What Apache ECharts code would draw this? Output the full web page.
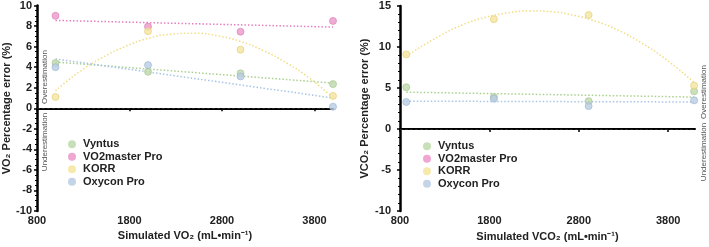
<!DOCTYPE html>
<html>
<head>
<meta charset="utf-8">
<script src="https://cdn.jsdelivr.net/npm/echarts@6/dist/echarts.min.js"></script>
<style>
  html, body { margin: 0; padding: 0; background: #fff; }
  #chart { width: 709px; height: 247px; }
</style>
</head>
<body>
<div id="chart"></div>
<script>
// VO2 panel (left)
const vo2X = [1000, 2000, 3000, 4000];
const vo2Vyntus = [4.4, 3.55, 3.4, 2.35];
const vo2Master = [9.0, 7.95, 7.45, 8.5];
const vo2Korr = [1.1, 7.5, 5.7, 1.2];
const vo2Oxycon = [4.0, 4.2, 3.1, 0.15];
// fitted lines
const vo2LineX = [1000, 4000];
const vo2VyntusLine = [4.5, 2.45];
const vo2MasterLine = [8.55, 7.9];
const vo2OxyconLine = [4.8, 1.0];
const vo2KorrCurveX = [1000, 1250, 1500, 1750, 2000, 2250, 2500, 2750, 3000, 3250, 3500, 3750, 4000];
const vo2KorrCurve = [1.7, 3.5, 4.9, 6.0, 6.8, 7.2, 7.3, 7.05, 6.5, 5.6, 4.4, 2.9, 1.0];

// VCO2 panel (right)
const vco2X = [870, 1850, 2910, 4090];
const vco2Vyntus = [5.1, 3.9, 3.4, 4.6];
const vco2Korr = [9.1, 13.4, 13.9, 5.3];
const vco2Oxycon = [3.3, 3.7, 2.8, 3.5];
const vco2LineX = [870, 4090];
const vco2VyntusLine = [4.5, 3.9];
const vco2OxyconLine = [3.4, 3.3];
const vco2KorrCurveX = [870, 1250, 1500, 1750, 2000, 2250, 2500, 2750, 3000, 3250, 3500, 3750, 4090];
const vco2KorrCurve = [8.9, 11.4, 12.7, 13.6, 14.15, 14.4, 14.3, 13.85, 13.1, 12.0, 10.5, 8.7, 5.7];

const xTicks = [800, 1800, 2800, 3800];
const devices = ["Vyntus", "VO2master Pro", "KORR", "Oxycon Pro"];

const FONT = "Liberation Sans";
const colors = {
  "Vyntus": { fill: "#bddaaa", edge: "#a3c391", line: "#a9d08e" },
  "VO2master Pro": { fill: "#ec97ca", edge: "#d680b4", line: "#e57fbf" },
  "KORR": { fill: "#f5e59c", edge: "#e2cd7c", line: "#f1de86" },
  "Oxycon Pro": { fill: "#b9cde5", edge: "#9cb3d0", line: "#a9c4e6" }
};

const pairs = (xs, ys) => xs.map((x, i) => [x, ys[i]]);

function pointSeries(name, xs, ys, idx) {
  const c = colors[name];
  return {
    name: name, type: "scatter", xAxisIndex: idx, yAxisIndex: idx,
    data: xs ? pairs(xs, ys) : [],
    symbolSize: 7, z: 5,
    itemStyle: { color: c.fill, borderColor: c.edge, borderWidth: 0.8 }
  };
}

function trendSeries(name, xs, ys, idx, smooth) {
  return {
    type: "line", xAxisIndex: idx, yAxisIndex: idx,
    data: pairs(xs, ys), showSymbol: false, smooth: smooth, silent: true,
    lineStyle: { color: colors[name].line, width: 1.5, type: [1.5, 2] }, z: 3
  };
}

function zeroLine(idx) {
  return {
    type: "line", xAxisIndex: idx, yAxisIndex: idx, data: [], silent: true,
    markLine: {
      symbol: "none", silent: true, label: { show: false },
      lineStyle: { color: "#222", type: [3, 2], width: 1 },
      data: [{ yAxis: 0 }]
    }
  };
}

function xAxis(idx, max, title) {
  return {
    type: "value", gridIndex: idx, min: 800, max: max, interval: 1000,
    name: title, nameLocation: "middle", nameGap: 16,
    nameTextStyle: { fontFamily: FONT, fontWeight: "bold", fontSize: 11, color: "#222" },
    axisLine: { lineStyle: { color: "#000", width: 2 } },
    axisTick: { customValues: xTicks, length: 3, lineStyle: { color: "#000", width: 1.5 } },
    axisLabel: {
      customValues: xTicks, margin: 4, formatter: v => String(v),
      fontFamily: FONT, fontWeight: "bold", fontSize: 11, color: "#222"
    },
    splitLine: { show: false }
  };
}

function yAxis(idx, min, max, interval, minorSplit, title, labelMargin, nameGap) {
  return {
    type: "value", gridIndex: idx, min: min, max: max, interval: interval,
    name: title, nameLocation: "middle", nameGap: nameGap, nameRotate: 90,
    nameTextStyle: { fontFamily: FONT, fontWeight: "bold", fontSize: 11, color: "#222" },
    axisLine: { show: true, lineStyle: { color: "#000", width: 2.5 } },
    axisTick: { show: true, length: 3, lineStyle: { color: "#000", width: 1.5 } },
    minorTick: { show: true, splitNumber: minorSplit, length: 2, lineStyle: { color: "#000", width: 1.2 } },
    axisLabel: { margin: labelMargin, fontFamily: FONT, fontWeight: "bold", fontSize: 11, color: "#222" },
    splitLine: { show: false }
  };
}

function sideText(x, y, text) {
  return {
    type: "text", x: x, y: y, rotation: Math.PI / 2,
    style: { text: text, fill: "#555", font: "8px " + FONT, align: "center", verticalAlign: "middle" }
  };
}

function legend(left, top) {
  return {
    orient: "vertical", left: left, top: top, data: devices,
    icon: "circle", itemWidth: 8, itemHeight: 8, itemGap: 0,
    itemStyle: { borderWidth: 0, opacity: 0.85 },
    textStyle: { fontFamily: FONT, fontWeight: "bold", fontSize: 11, lineHeight: 12.5, color: "#222", padding: [0, 0, 0, 2] }
  };
}

const chart = echarts.init(document.getElementById("chart"), null, { renderer: "canvas" });

const option = {
  backgroundColor: "#fff",
  animation: false,
  grid: [
    { left: 37, top: 5, width: 296, height: 206 },
    { left: 400, top: 6, width: 295, height: 206 }
  ],
  xAxis: [
    xAxis(0, 4000, "Simulated VO\u2082 (mL\u2022min\u207B\u00B9)"),
    xAxis(1, 4100, "Simulated VCO\u2082 (mL\u2022min\u207B\u00B9)")
  ],
  yAxis: [
    yAxis(0, -10, 10, 2, 4, "VO\u2082 Percentage error (%)", 5, 21),
    yAxis(1, -10, 15, 5, 5, "VCO\u2082 Percentage error (%)", 9, 30)
  ],
  legend: [legend(63, 133), legend(418, 135)],
  graphic: [
    sideText(45, 77, "Overestimation"),
    sideText(45, 142, "Underestimation"),
    sideText(704, 92, "Overestimation"),
    sideText(704, 152, "Underestimation")
  ],
  series: [
    zeroLine(0),
    trendSeries("Vyntus", vo2LineX, vo2VyntusLine, 0, false),
    trendSeries("VO2master Pro", vo2LineX, vo2MasterLine, 0, false),
    trendSeries("KORR", vo2KorrCurveX, vo2KorrCurve, 0, true),
    trendSeries("Oxycon Pro", vo2LineX, vo2OxyconLine, 0, false),
    pointSeries("Vyntus", vo2X, vo2Vyntus, 0),
    pointSeries("VO2master Pro", vo2X, vo2Master, 0),
    pointSeries("KORR", vo2X, vo2Korr, 0),
    pointSeries("Oxycon Pro", vo2X, vo2Oxycon, 0),

    zeroLine(1),
    trendSeries("Vyntus", vco2LineX, vco2VyntusLine, 1, false),
    trendSeries("KORR", vco2KorrCurveX, vco2KorrCurve, 1, true),
    trendSeries("Oxycon Pro", vco2LineX, vco2OxyconLine, 1, false),
    pointSeries("Vyntus", vco2X, vco2Vyntus, 1),
    pointSeries("VO2master Pro", null, null, 1),
    pointSeries("KORR", vco2X, vco2Korr, 1),
    pointSeries("Oxycon Pro", vco2X, vco2Oxycon, 1)
  ]
};

chart.setOption(option);
</script>
</body>
</html>
